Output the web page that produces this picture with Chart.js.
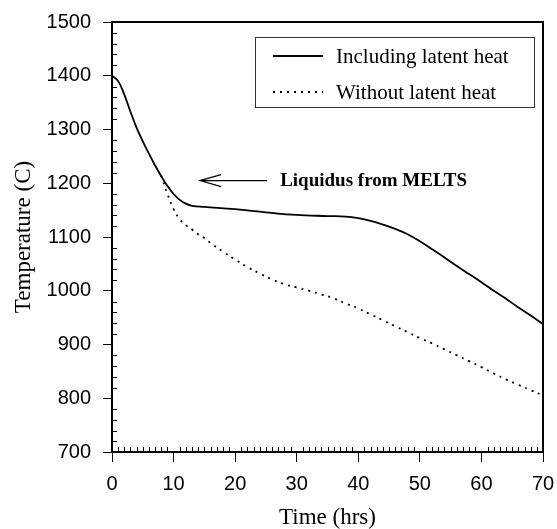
<!DOCTYPE html>
<html>
<head>
<meta charset="utf-8">
<script src="https://cdn.jsdelivr.net/npm/chart.js@4/dist/chart.umd.min.js"></script>
<style>
  html, body { margin: 0; padding: 0; background: #fff; }
  #wrap { width: 557px; height: 529px; }
</style>
</head>
<body>
<div id="wrap"><canvas id="chart" width="557" height="529"></canvas></div>
<script>
// --- data ---
const seriesNames = ['Including latent heat', 'Without latent heat'];

const latentTime = [0, 1, 2, 3, 4, 5, 6, 7, 8, 9, 10, 11, 12, 13, 15, 20, 25, 30, 35, 38, 40, 42, 44, 46, 48, 50, 52, 54, 56, 58, 60, 62, 64, 66, 68, 70];
const latentTemp = [1400, 1390, 1365, 1333, 1303, 1278, 1255, 1233, 1213, 1195, 1180, 1169, 1162, 1158, 1156, 1152, 1146, 1141, 1139, 1138, 1135, 1130, 1123, 1115, 1105, 1092, 1077, 1062, 1046, 1031, 1016, 1000, 985, 969, 954, 938];

const noLatentTime = [8, 9, 10, 11, 12, 13, 14, 15, 16, 18, 20, 22, 24, 26, 28, 30, 32, 34, 36, 38, 40, 42, 44, 46, 48, 50, 52, 54, 56, 58, 60, 62, 64, 66, 68, 70];
const noLatentTemp = [1214, 1180, 1152, 1133, 1122, 1114, 1105, 1098, 1089, 1073, 1058, 1044, 1032, 1021, 1012, 1006, 1000, 993, 986, 976, 967, 956, 945, 934, 923, 912, 902, 891, 880, 869, 858, 846, 835, 825, 815, 805];

const xTickStep = 10, xMinorStep = 1;
const yTickStep = 100, yMinorStep = 20;

const noteText = 'Liquidus from MELTS';
const noteArrowFrom = 25.2, noteArrowTo = 14.3, noteLevel = 1205;

const toPoints = (xs, ys) => xs.map((t, i) => ({ x: t, y: ys[i] }));

// frame, minor ticks, legend box and the arrow note
const extrasPlugin = {
    id: 'extras',
    afterDatasetsDraw(chart) {
        const { ctx, chartArea: a, scales: { x, y } } = chart;
        ctx.save();
        ctx.strokeStyle = '#000';
        ctx.fillStyle = '#000';

        // minor ticks, drawn inward
        ctx.lineWidth = 1;
        ctx.beginPath();
        for (let v = y.min; v <= y.max; v += yMinorStep) {
            if (v % yTickStep === 0) continue;
            const py = Math.round(y.getPixelForValue(v)) + 0.5;
            ctx.moveTo(a.left, py); ctx.lineTo(a.left + 5, py);
        }
        for (let t = x.min; t <= x.max; t += xMinorStep) {
            if (t % xTickStep === 0) continue;
            const px = Math.round(x.getPixelForValue(t)) + 0.5;
            ctx.moveTo(px, a.bottom); ctx.lineTo(px, a.bottom - 5);
        }
        ctx.stroke();

        // box around the plot
        ctx.lineWidth = 2;
        ctx.strokeRect(a.left, a.top, a.right - a.left, a.bottom - a.top);

        // legend
        const lx = a.right - 288, ly = a.top + 15;
        ctx.lineWidth = 1;
        ctx.strokeStyle = '#333';
        ctx.strokeRect(lx + 0.5, ly + 0.5, 279, 70);
        ctx.font = '21px "Liberation Serif", "Times New Roman", serif';
        ctx.textBaseline = 'middle';
        ctx.textAlign = 'left';
        chart.data.datasets.forEach((ds, i) => {
            const rowY = ly + 19 + i * 36;
            ctx.strokeStyle = '#000';
            ctx.lineWidth = ds.borderWidth;
            ctx.setLineDash(ds.borderDash || []);
            ctx.beginPath();
            ctx.moveTo(lx + 18, rowY);
            ctx.lineTo(lx + 68, rowY);
            ctx.stroke();
            ctx.setLineDash([]);
            ctx.fillText(ds.label, lx + 81, rowY + 1);
        });

        // arrow and note
        const ay = y.getPixelForValue(noteLevel);
        const tip = x.getPixelForValue(noteArrowTo);
        const tail = x.getPixelForValue(noteArrowFrom);
        ctx.lineWidth = 1.2;
        ctx.beginPath();
        ctx.moveTo(tail, ay); ctx.lineTo(tip, ay);
        ctx.moveTo(tip + 21, ay - 6); ctx.lineTo(tip, ay); ctx.lineTo(tip + 21, ay + 6);
        ctx.stroke();
        ctx.font = 'bold 19px "Liberation Serif", "Times New Roman", serif';
        ctx.fillText(noteText, tail + 13, ay + 1);

        ctx.restore();
    }
};

new Chart(document.getElementById('chart'), {
    type: 'line',
    data: {
        datasets: [
            {
                label: seriesNames[0],
                data: toPoints(latentTime, latentTemp),
                borderColor: '#000', borderWidth: 1.8,
                pointRadius: 0, tension: 0.4, fill: false
            },
            {
                label: seriesNames[1],
                data: toPoints(noLatentTime, noLatentTemp),
                borderColor: '#000', borderWidth: 1.8, borderDash: [2, 5],
                pointRadius: 0, tension: 0.4, fill: false
            }
        ]
    },
    options: {
        responsive: false,
        animation: false,
        layout: { padding: { top: 22, right: 14, left: 0, bottom: 0 } },
        plugins: { legend: { display: false }, tooltip: { enabled: false } },
        scales: {
            x: {
                type: 'linear', min: 0, max: 70,
                afterFit: s => { s.height = 77; s.paddingLeft = 0; s.paddingRight = 0; },
                ticks: { stepSize: xTickStep, color: '#000', padding: 10, font: { family: '"Liberation Sans", Arial, sans-serif', size: 20 } },
                grid: { drawOnChartArea: false, tickLength: 10, color: '#000' },
                border: { display: true, color: '#000', width: 2 },
                title: { display: true, text: 'Time (hrs)', color: '#000', padding: { top: 0, bottom: 0 }, font: { family: '"Liberation Serif", "Times New Roman", serif', size: 23, lineHeight: 1 } }
            },
            y: {
                min: 700, max: 1500,
                afterFit: s => { s.width = 112; s.paddingTop = 0; s.paddingBottom = 0; },
                ticks: { stepSize: yTickStep, color: '#000', padding: 12, callback: v => String(v), font: { family: '"Liberation Sans", Arial, sans-serif', size: 20 } },
                grid: { drawOnChartArea: false, tickLength: 9, color: '#000' },
                border: { display: true, color: '#000', width: 2 },
                title: { display: true, text: 'Temperature (C)', color: '#000', padding: { top: 12, bottom: 0 }, font: { family: '"Liberation Serif", "Times New Roman", serif', size: 23, lineHeight: 1 } }
            }
        }
    },
    plugins: [extrasPlugin]
});
</script>
</body>
</html>
